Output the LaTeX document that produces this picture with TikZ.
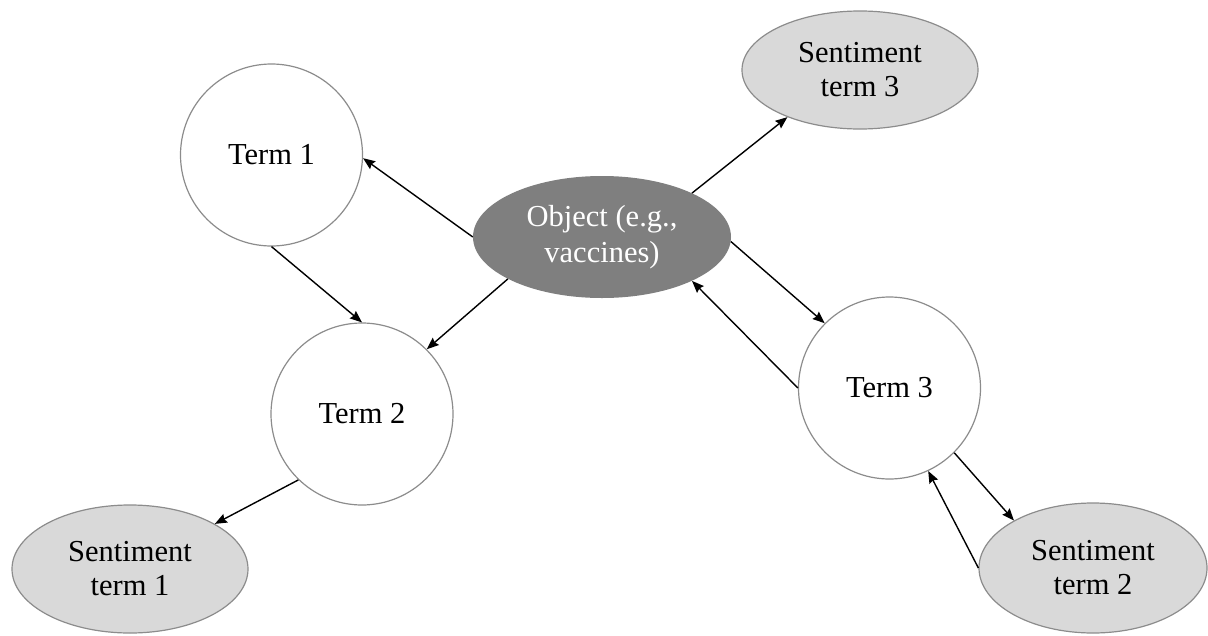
\documentclass[tikz,border=0pt]{standalone}
\usepackage{fontspec}
\setmainfont{Liberation Serif}
\usetikzlibrary{shapes.geometric,arrows.meta}
\definecolor{objfill}{HTML}{7F7F7F}
\definecolor{sentfill}{HTML}{D9D9D9}
\definecolor{edgegrey}{HTML}{8C8C8C}
\tikzset{
  x=1pt,y=-1pt,
  termnode/.style={circle,draw=edgegrey,line width=1.2pt,fill=white,minimum size=182pt,inner sep=0pt,font=\fontsize{30.5}{35}\selectfont},
  objnode/.style={ellipse,fill=objfill,minimum width=258pt,minimum height=122pt,inner sep=0pt,align=center,text=white,font=\fontsize{30.5}{36}\selectfont},
  sentnode/.style={ellipse,draw=edgegrey,line width=1.2pt,fill=sentfill,inner sep=0pt,align=center,font=\fontsize{30.5}{34}\selectfont},
  conn/.style={draw=black,line width=1.4pt,-{Stealth[length=12pt,width=9.5pt,inset=1.5pt]}}
}
\begin{document}
\begin{tikzpicture}
\useasboundingbox (0,0) rectangle (1208,635);
\node[termnode] (t1) at (271.5,155) {Term 1};
\node[termnode] (t2) at (362,414) {Term 2};
\node[termnode] (t3) at (889.5,388) {Term 3};
\node[objnode] (obj) at (602,237) {Object (e.g.,\\vaccines)};
\node[sentnode,minimum width=236pt,minimum height=118pt] (s3) at (860,70) {Sentiment\\term 3};
\node[sentnode,minimum width=228pt,minimum height=130pt] (s2) at (1093,568) {Sentiment\\term 2};
\node[sentnode,minimum width=236pt,minimum height=128pt] (s1) at (130,569) {Sentiment\\term 1};
\draw[conn] (obj.west) -- (t1.-2);
\draw[conn] (t1.south) -- (t2.north);
\draw[conn] (obj.204) -- (t2.45);
\draw[conn] (obj.26) -- (s3.213);
\draw[conn] (obj.-2) -- (t3.135);
\draw[conn] (t3.west) -- (obj.-26);
\draw[conn] (t3.-45) -- (s2.149);
\draw[conn] (s2.west) -- (t3.-65);
\draw[conn] (t2.226) -- (s1.28);
\end{tikzpicture}
\end{document}
